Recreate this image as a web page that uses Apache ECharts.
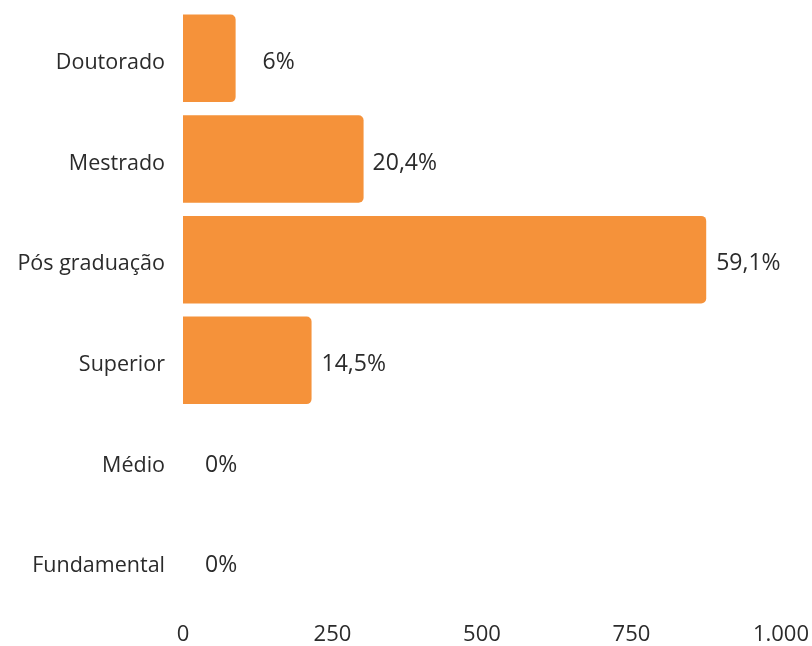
<!DOCTYPE html>
<html>
<head>
<meta charset="utf-8">
<script src="https://cdn.jsdelivr.net/npm/echarts@6/dist/echarts.min.js"></script>
<style>
  html, body { margin: 0; padding: 0; background: #ffffff; }
  #chart { width: 812px; height: 646px; }
</style>
</head>
<body>
<div id="chart"></div>
<script>
const categories = ["Doutorado", "Mestrado", "Pós graduação", "Superior", "Médio", "Fundamental"];
const counts = [88, 302, 875, 215, 0, 0];
const percentLabels = ["6%", "20,4%", "59,1%", "14,5%", "0%", "0%"];
const labelGaps = [27, 9, 10, 10, 22, 22];
const xTicks = [0, 250, 500, 750, 1000];

const FONT = "'Open Sans', Lato, sans-serif";
const TEXT = "#2b2b2b";

const chart = echarts.init(document.getElementById('chart'), null, { renderer: 'canvas' });

chart.setOption({
  animation: false,
  backgroundColor: '#ffffff',
  grid: { left: 183, right: 29, top: 8, bottom: 30, containLabel: false },
  xAxis: {
    type: 'value',
    min: xTicks[0],
    max: xTicks[xTicks.length - 1],
    interval: xTicks[1] - xTicks[0],
    axisLine: { show: false },
    axisTick: { show: false },
    splitLine: { show: false },
    axisLabel: {
      margin: 12,
      color: TEXT,
      fontFamily: FONT,
      fontSize: 22,
      formatter: v => String(v).replace(/\B(?=(\d{3})+(?!\d))/g, '.')
    }
  },
  yAxis: {
    type: 'category',
    inverse: true,
    data: categories,
    axisLine: { show: false },
    axisTick: { show: false },
    splitLine: { show: false },
    axisLabel: {
      margin: 18,
      color: TEXT,
      fontFamily: FONT,
      fontSize: 21.5,
      formatter: v => '{c|' + v + '}',
      rich: {
        c: {
          color: TEXT,
          fontFamily: FONT,
          fontSize: 21.5,
          padding: [9, 0, 0, 0]
        }
      }
    }
  },
  series: [{
    type: 'bar',
    barCategoryGap: '13%',
    data: counts.map((v, i) => ({
      value: v,
      label: { distance: labelGaps[i] }
    })),
    itemStyle: { color: '#F5923A', borderRadius: [0, 5, 5, 0] },
    label: {
      show: true,
      position: 'right',
      offset: [0, 4],
      color: TEXT,
      fontFamily: FONT,
      fontSize: 23,
      formatter: p => percentLabels[p.dataIndex]
    }
  }]
});
</script>
</body>
</html>
